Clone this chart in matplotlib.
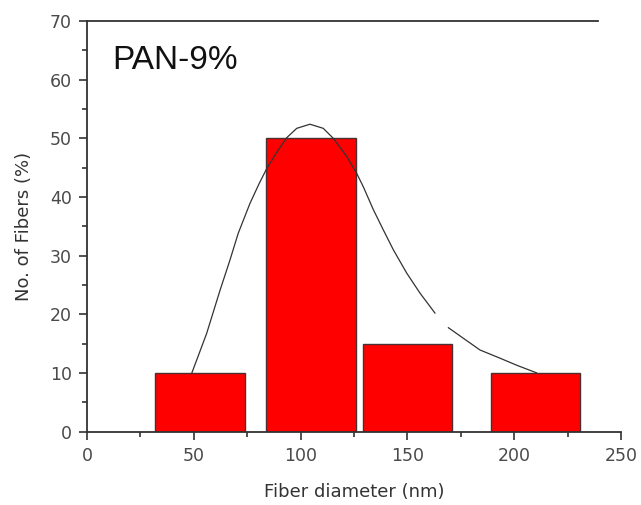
import numpy as np
import matplotlib
matplotlib.use("Agg")
from matplotlib import pyplot as plt
from matplotlib.ticker import MultipleLocator

# histogram bins (nm) and share of fibers (%)
bin_centers = [53, 105, 150, 210]
bin_width = 42
fiber_pct = [10, 50, 15, 10]

# fitted distribution curve (NaN = gap in the line)
fit_x = [49.0, 56.0, 62.3, 66.9, 70.8, 76.3, 80.5, 84.1, 88.8, 93.5, 98.2,
         104.4, 110.6, 115.3, 121.6, 126.3, 129.4, 134.1, 138.7, 143.4,
         149.7, 155.9, 162.9, np.nan,
         169.2, 176.2, 184.0, 193.4, 201.2, 210.5]
fit_y = [9.9, 16.7, 24.1, 29.2, 33.8, 38.9, 42.2, 44.8, 47.6, 50.1, 51.7,
         52.4, 51.7, 50.0, 46.9, 44.0, 41.7, 37.8, 34.4, 31.0,
         27.0, 23.6, 20.2, np.nan,
         17.7, 15.9, 13.9, 12.5, 11.3, 10.0]

plt.rcParams['font.family'] = ['DejaVu Sans']
axis_col = "#333333"

fig = plt.figure(figsize=(6.41, 5.05), dpi=100)
ax = fig.add_axes([0.1357, 0.1455, 0.9688 - 0.1357, 0.9584 - 0.1455])

ax.bar(bin_centers, fiber_pct, width=bin_width, color="#ff0000",
       edgecolor="#4a3030", linewidth=1.0, zorder=2)
ax.plot(fit_x, fit_y, color="#333333", linewidth=0.9, zorder=3)

ax.text(11.7, 61.9, "PAN-9%", fontsize=24, color="#111111",
        family="Liberation Sans")

ax.set_xlim(0, 250)
ax.set_ylim(0, 70)
ax.xaxis.set_major_locator(MultipleLocator(50))
ax.xaxis.set_minor_locator(MultipleLocator(25))
ax.yaxis.set_major_locator(MultipleLocator(10))
ax.yaxis.set_minor_locator(MultipleLocator(5))

ax.spines['right'].set_visible(False)
ax.spines['top'].set_bounds(0, 239)
for s in ax.spines.values():
    s.set_color(axis_col)
    s.set_linewidth(1.3)

ax.tick_params(which='major', direction='out', length=6, width=1.2,
               color=axis_col, labelcolor="#4a4a4a", labelsize=12.5, pad=5)
ax.tick_params(which='minor', direction='out', length=3.5, width=1.2,
               color=axis_col)
ax.tick_params(top=False, right=False, which='both')

ax.set_xlabel("Fiber diameter (nm)", fontsize=13, color="#333333", labelpad=13)
ax.set_ylabel("No. of Fibers (%)", fontsize=13, color="#333333", labelpad=12)

fig.savefig("out.png", dpi=100)
